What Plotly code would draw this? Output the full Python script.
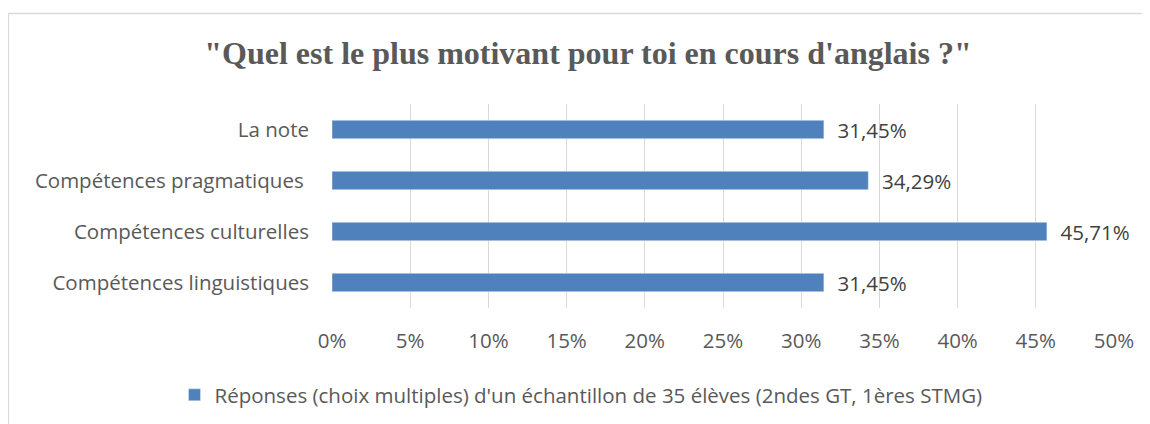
import plotly.graph_objects as go

categories = ["La note", "Compétences pragmatiques ", "Compétences culturelles", "Compétences linguistiques"]
values = [31.45, 34.29, 45.71, 31.45]
series_name = "Réponses (choix multiples) d'un échantillon de 35 élèves (2ndes GT, 1ères STMG)"
tick_vals = [0, 5, 10, 15, 20, 25, 30, 35, 40, 45, 50]
tick_text = [f"{v}%" for v in tick_vals]

OFF = 8  # page body margin
W, H = 1150, 424
L, R, T, B = 332 - OFF, 36 + OFF, 104 - OFF, 116 + OFF
pw, ph = W - L - R, H - T - B

def px_x(p):
    return (p - OFF - L) / pw

def px_y(p):
    return (H - B - (p - OFF)) / ph

font_fam = "'Open Sans', sans-serif"
FS = 20.5

fig = go.Figure()
fig.add_trace(go.Bar(
    y=categories, x=values, orientation="h", name=series_name,
    marker=dict(color="#4F81BD"),
    text=values, texttemplate="\u00a0\u00a0%{x:.2f}%", textposition="outside",
    constraintext="none",
    textfont=dict(family=font_fam, size=FS, color="#404040"),
    cliponaxis=False,
))

fig.update_layout(
    width=W, height=H,
    margin=dict(l=L, r=R, t=T, b=B),
    paper_bgcolor="white", plot_bgcolor="white",
    separators=", ",
    bargap=0.64,
    title=dict(text="<b>\"Quel est le plus motivant pour toi en cours d'anglais ?\"</b>",
               x=(588 - OFF) / W, xanchor="center", y=1 - (53 - OFF) / H, yanchor="middle",
               font=dict(family="'Liberation Serif', 'Times New Roman', serif", size=32, color="#595959"),
               ),
    xaxis=dict(range=[0, 50], tickvals=tick_vals, ticktext=tick_text,
               showgrid=True, gridcolor="#D9D9D9", gridwidth=1.3,
               zeroline=False, showline=False, ticks="", ticklabelstandoff=18,
               tickfont=dict(family=font_fam, size=FS, color="#595959")),
    yaxis=dict(autorange="reversed", showgrid=False, zeroline=False, showline=False,
               ticks="", ticklabelstandoff=22,
               tickfont=dict(family=font_fam, size=FS, color="#595959")),
    showlegend=True,
    legend=dict(orientation="h", x=px_x(581), xanchor="center", y=px_y(395), yanchor="middle",
                itemwidth=30,
                font=dict(family=font_fam, size=FS, color="#595959")),
    shapes=[dict(type="rect", xref="paper", yref="paper",
                 x0=px_x(8.5), x1=px_x(1170), y0=px_y(450), y1=px_y(13.5),
                 line=dict(color="#D9D9D9", width=1.3), fillcolor="rgba(0,0,0,0)", layer="below")],
)

fig.write_html("out.html")
